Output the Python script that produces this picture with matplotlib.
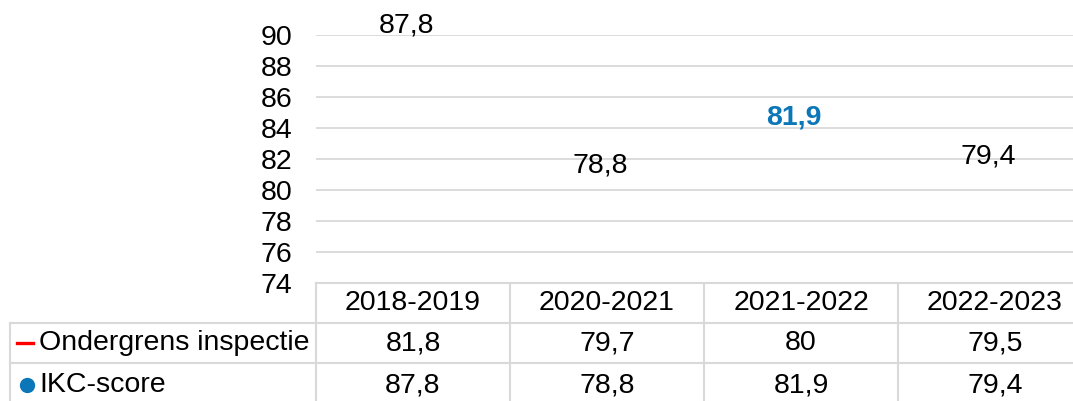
import matplotlib
matplotlib.use("Agg")
import matplotlib.pyplot as plt
from matplotlib.lines import Line2D
from matplotlib.transforms import blended_transform_factory

plt.rcParams['font.family'] = ['Liberation Sans', 'DejaVu Sans']

years = ["2018-2019", "2020-2021", "2021-2022", "2022-2023"]
ondergrens = [81.8, 79.7, 80, 79.5]
ikc_score = [87.8, 78.8, 81.9, 79.4]
series_names = ["Ondergrens inspectie", "IKC-score"]
yticks = [74, 76, 78, 80, 82, 84, 86, 88, 90]

W, H = 1073, 401
FS = 20.5
fig = plt.figure(figsize=(W / 100, H / 100), dpi=100)

left, right, top, bottom = 316, 1092, 34.7, 283
ax = fig.add_axes([left / W, (H - bottom) / H, (right - left) / W, (bottom - top) / H])
ax.set_xlim(-0.5, len(years) - 0.5)
ax.set_ylim(74, 90)
ax.set_yticks(yticks)
ax.set_yticklabels([str(t) for t in yticks])
ax.set_xticks([])
ax.tick_params(axis='y', length=0, pad=17, labelsize=FS)
for s in ax.spines.values():
    s.set_visible(False)
for t in yticks[1:]:
    ax.axhline(t, color='#d9d9d9', lw=1.3, zorder=0)

blue = '#0b77b8'
grid_c = '#d9d9d9'

# points are invisible in the reference, only the labels show
ax.plot(range(len(years)), ikc_score, lw=0, marker=None)
for i, v in enumerate(ikc_score):
    txt = f"{v}".replace('.', ',')
    highlight = i == 2
    ax.annotate(txt, (i, v), xytext=(-5, 31), textcoords='offset points',
                ha='center', va='center', fontsize=FS,
                color=blue if highlight else 'black',
                fontweight='bold' if highlight else 'normal',
                annotation_clip=False)

# data table below the plot
bt = blended_transform_factory(ax.transData, fig.transFigure)
ft = fig.transFigure

def fy(py):
    return (H - py) / H

row_lines = [283, 323, 363]
row_centers = [303, 343, 385]
leg_left = 10 / W

# horizontal borders
fig.add_artist(Line2D([left / W, 1.0], [fy(283)] * 2, transform=ft, color=grid_c, lw=1.5))
for py in row_lines[1:]:
    fig.add_artist(Line2D([leg_left, 1.0], [fy(py)] * 2, transform=ft, color=grid_c, lw=1.5))
# vertical borders
fig.add_artist(Line2D([leg_left, leg_left], [fy(323), 0], transform=ft, color=grid_c, lw=1.5))
for i in range(len(years) + 1):
    x = i - 0.5
    fig.add_artist(Line2D([x, x], [fy(283), 0], transform=bt, color=grid_c, lw=1.5))

for i, y in enumerate(years):
    fig.text(i, fy(row_centers[0]), y, transform=bt, ha='center', va='center', fontsize=FS)
for r, vals in enumerate([ondergrens, ikc_score]):
    for i, v in enumerate(vals):
        txt = f"{v}".replace('.', ',')
        fig.text(i, fy(row_centers[r + 1]), txt, transform=bt, ha='center', va='center', fontsize=FS)

# legend keys in the table
fig.add_artist(Line2D([17 / W, 33 / W], [fy(343)] * 2, transform=ft, color='#ff0000', lw=2.4))
fig.add_artist(Line2D([27 / W], [fy(385)], transform=ft, marker='o', markersize=10,
                      color=blue, lw=0))
fig.text(39 / W, fy(343), series_names[0], ha='left', va='center', fontsize=FS)
fig.text(39 / W, fy(385), series_names[1], ha='left', va='center', fontsize=FS)

fig.savefig('out.png', dpi=100)
